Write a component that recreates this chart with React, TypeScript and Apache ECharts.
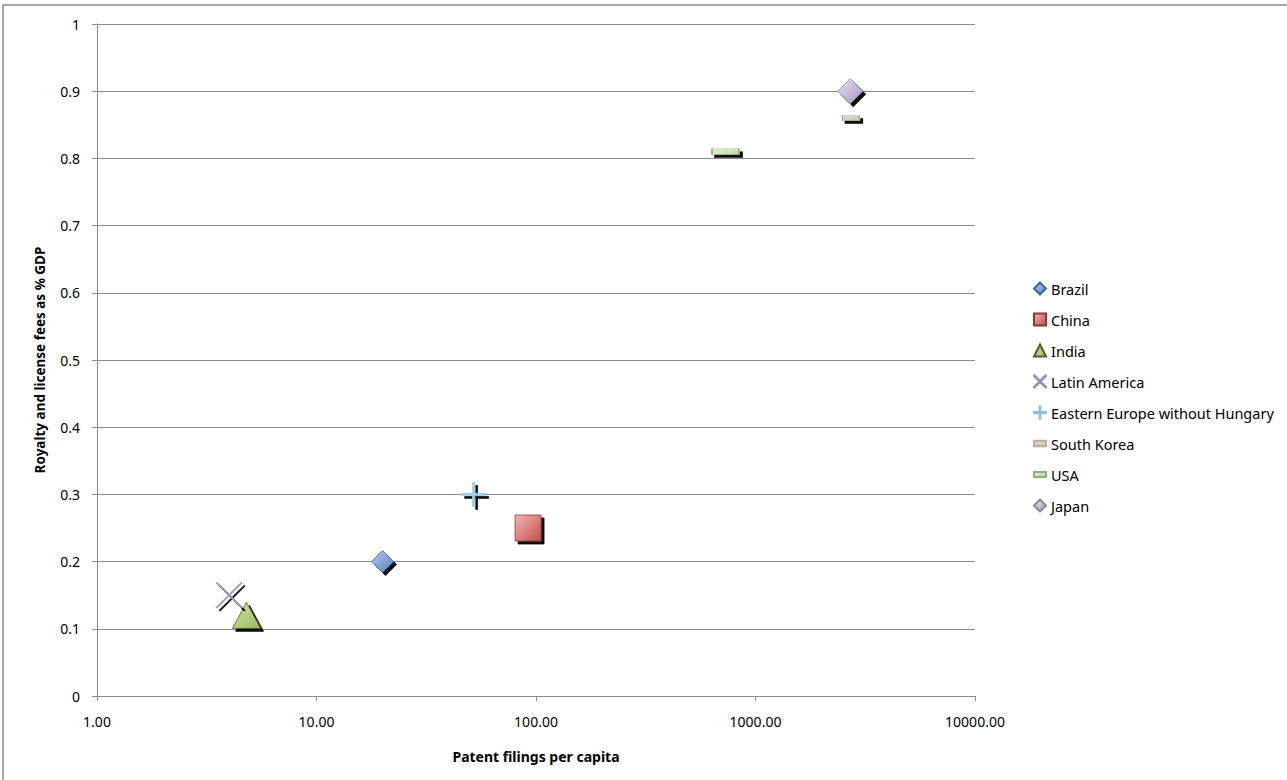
import React, { useEffect, useRef } from "react";
import * as echarts from "echarts";

const seriesNames = [
  "Brazil",
  "China",
  "India",
  "Latin America",
  "Eastern Europe without Hungary",
  "South Korea",
  "USA",
  "Japan",
];
// patent filings per capita (x), royalty and license fees as % GDP (y)
const patentFilings = [20, 92, 4.8, 4, 52, 2720, 730, 2700];
const royaltyFees = [0.2, 0.25, 0.12, 0.15, 0.3, 0.86, 0.81, 0.9];
const xTicks = [1, 10, 100, 1000, 10000];
const yTickLabels = ["0", "0.1", "0.2", "0.3", "0.4", "0.5", "0.6", "0.7", "0.8", "0.9", "1"];

const X_PATH =
  "path://M0,0.7 L0.7,0 L10,9.3 L19.3,0 L20,0.7 L10.7,10 L20,19.3 L19.3,20 L10,10.7 L0.7,20 L0,19.3 L9.3,10 Z";
const PLUS_PATH = "path://M9.2,0h1.6v9.2h9.2v1.6h-9.2v9.2h-1.6v-9.2h-9.2v-1.6h9.2z";
const FLAT_ICON = "path://M0,0h12v5h-12z";
const SMALL_FLAT_ICON = "path://M0,0h9v4h-9z";

const grad = (a: string, b: string) =>
  new echarts.graphic.LinearGradient(0, 0, 1, 1, [
    { offset: 0, color: a },
    { offset: 1, color: b },
  ]);

const styles = [
  { symbol: "diamond", size: 22, fill: grad("#b3cff0", "#4f81bd"), border: "#3d6596", icon: "diamond" },
  { symbol: "rect", size: 26, fill: grad("#f6b4b2", "#c0504d"), border: "#8c3836", icon: "rect" },
  { symbol: "triangle", size: [28, 26], fill: grad("#d2e4a6", "#9bbb59"), border: "#4f5f2a", icon: "triangle" },
  { symbol: X_PATH, size: 26, fill: "#a3a3cc", border: "#9090bb", icon: X_PATH },
  { symbol: PLUS_PATH, size: 24, fill: "#a6d1ee", border: "#8fc0e0", icon: PLUS_PATH },
  { symbol: "rect", size: [17, 5], fill: grad("#e6d6d0", "#bcd8a6"), border: "#c4a8a0", icon: SMALL_FLAT_ICON },
  { symbol: "rect", size: [27, 6], fill: grad("#e3f1d6", "#b9d79f"), border: "#8fae7a", icon: FLAT_ICON },
  { symbol: "diamond", size: 25, fill: grad("#e8e0f5", "#a895c8"), border: "#8c8c8c", icon: "diamond" },
];

export default function App() {
  const ref = useRef<HTMLDivElement>(null);
  useEffect(() => {
    if (!ref.current) return;
    const chart = echarts.init(ref.current, undefined, { renderer: "svg" });
    chart.setOption({
      animation: false,
      backgroundColor: "#ffffff",
      graphic: [
        {
          type: "rect",
          shape: { x: 3, y: 5, width: 1300, height: 800 },
          style: { fill: "none", stroke: "#8a8a8a", lineWidth: 1.5 },
          silent: true,
        },
      ],
      grid: { left: 97, right: 312, top: 24, bottom: 84 },
      legend: {
        orient: "vertical",
        left: 1028,
        top: 276,
        itemWidth: 12,
        itemHeight: 12,
        itemGap: 16,
        data: seriesNames.map((name, i) => ({ name, icon: styles[i].icon })),
        textStyle: { fontFamily: "Noto Sans", fontSize: 14.5, color: "#000" },
      },
      xAxis: {
        type: "log",
        logBase: 10,
        min: xTicks[0],
        max: xTicks[xTicks.length - 1],
        name: "Patent filings per capita",
        nameLocation: "middle",
        nameGap: 53,
        nameTextStyle: { fontFamily: "Noto Sans", fontSize: 14, fontWeight: "bold", color: "#000" },
        axisLine: { lineStyle: { color: "#8c8c8c", width: 1 } },
        axisTick: { show: true, length: 5, lineStyle: { color: "#8c8c8c" } },
        minorTick: { show: false },
        splitLine: { show: false },
        axisLabel: {
          margin: 18,
          fontFamily: "Noto Sans",
          fontSize: 14,
          color: "#000",
          formatter: (v: number) => v.toFixed(2),
        },
      },
      yAxis: {
        type: "value",
        min: 0,
        max: 1,
        interval: 0.1,
        name: "Royalty and license fees as % GDP",
        nameLocation: "middle",
        nameGap: 50,
        nameTextStyle: { fontFamily: "Noto Sans", fontSize: 13.5, fontWeight: "bold", color: "#000" },
        axisLine: { show: true, lineStyle: { color: "#8c8c8c", width: 1 } },
        axisTick: { show: true, length: 5, lineStyle: { color: "#8c8c8c" } },
        splitLine: { lineStyle: { color: "#8c8c8c", width: 1 } },
        axisLabel: {
          margin: 17,
          fontFamily: "Noto Sans",
          fontSize: 14,
          color: "#000",
          formatter: (v: number) => yTickLabels[Math.round(v * 10)],
        },
      },
      series: seriesNames.map((name, i) => ({
        name,
        type: "scatter",
        symbol: styles[i].symbol,
        symbolSize: styles[i].size,
        data: [[patentFilings[i], royaltyFees[i]]],
        itemStyle: {
          color: styles[i].fill,
          borderColor: styles[i].border,
          borderWidth: 0.8,
          opacity: 1,
          shadowColor: "rgba(0,0,0,0.95)",
          shadowBlur: 1,
          shadowOffsetX: 3,
          shadowOffsetY: 3,
        },
        emphasis: { disabled: true },
      })),
    });
    return () => chart.dispose();
  }, []);
  return (
    <div
      ref={ref}
      style={{ position: "fixed", left: 0, top: 0, width: 1287, height: 780 }}
    />
  );
}
